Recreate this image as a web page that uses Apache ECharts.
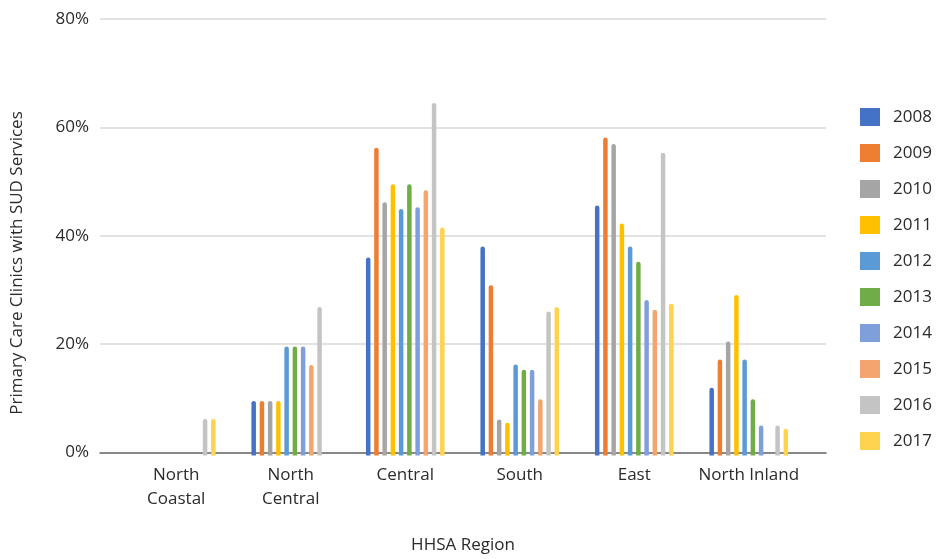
<!DOCTYPE html>
<html>
<head>
<meta charset="utf-8">
<script src="https://cdn.jsdelivr.net/npm/echarts@6/dist/echarts.min.js"></script>
<style>
  html, body { margin: 0; padding: 0; background: #ffffff; overflow: hidden; }
  #chart { width: 936px; height: 559px; }
</style>
</head>
<body>
<div id="chart"></div>
<script>
// Share of primary care clinics offering SUD services, by HHSA region and year (%)
const regions = ['North\nCoastal', 'North\nCentral', 'Central', 'South', 'East', 'North Inland'];
const years = ['2008', '2009', '2010', '2011', '2012', '2013', '2014', '2015', '2016', '2017'];

const v2008 = [0, 10.0, 36.3, 38.3, 45.8, 12.4];
const v2009 = [0, 10.0, 56.4, 31.2, 58.3, 17.6];
const v2010 = [0, 10.0, 46.4, 6.6, 57.1, 20.9];
const v2011 = [0, 10.0, 49.7, 6.0, 42.5, 29.4];
const v2012 = [0, 20.0, 45.2, 16.7, 38.3, 17.6];
const v2013 = [0, 20.0, 49.7, 15.7, 35.5, 10.3];
const v2014 = [0, 20.0, 45.5, 15.7, 28.5, 5.5];
const v2015 = [0, 16.6, 48.6, 10.3, 26.7, 0];
const v2016 = [6.7, 27.2, 64.6, 26.4, 55.5, 5.5];
const v2017 = [6.7, 0, 41.8, 27.2, 27.8, 4.9];

const yTicks = [0, 20, 40, 60, 80];

const seriesValues = [v2008, v2009, v2010, v2011, v2012, v2013, v2014, v2015, v2016, v2017];
const colors = ['#4472C4', '#ED7D31', '#A5A5A5', '#FFC000', '#5B9BD5',
                '#70AD47', '#7F9FDA', '#F3A46F', '#C4C4C4', '#FFD24F'];

const FONT = '"Open Sans", "Noto Sans", sans-serif';
const TEXT = '#2b2b2b';
const FS = 17;

const chart = echarts.init(document.getElementById('chart'), null, { renderer: 'canvas' });

const series = years.map((y, i) => ({
  name: y,
  type: 'bar',
  xAxisIndex: 1,
  yAxisIndex: 1,
  data: seriesValues[i],
  barWidth: 4.5,
  barGap: '83%',
  itemStyle: { color: colors[i], borderRadius: [2.25, 2.25, 0, 0] },
  emphasis: { disabled: true }
}));

chart.setOption({
  animation: false,
  color: colors,
  textStyle: { fontFamily: FONT },
  grid: [
    // frame: value gridlines and baseline across the full plot width
    { left: 100, width: 726, top: 19, height: 436.5 },
    // bars: category band inset within the frame
    { left: 119, width: 687, top: 19, height: 436.5 }
  ],
  legend: {
    orient: 'vertical',
    left: 860,
    top: 108,
    padding: 0,
    itemWidth: 20,
    itemHeight: 18,
    itemGap: 18,
    icon: 'rect',
    data: years,
    textStyle: { fontSize: FS, color: TEXT, fontFamily: FONT, lineHeight: 18, padding: [0, 0, 0, 8] }
  },
  xAxis: [
    {
      gridIndex: 0, type: 'value', min: 0, max: 1,
      axisLine: { show: true, onZero: false, lineStyle: { color: '#6b6b6b', width: 1.5 } },
      axisTick: { show: false }, axisLabel: { show: false }, splitLine: { show: false },
      name: 'HHSA Region', nameLocation: 'middle', nameGap: 93,
      nameTextStyle: { fontSize: FS, color: TEXT, fontFamily: FONT, verticalAlign: 'middle' }
    },
    {
      gridIndex: 1, type: 'category', data: regions,
      axisLine: { show: false }, axisTick: { show: false },
      axisLabel: { fontSize: FS, color: TEXT, lineHeight: 24, margin: 8, interval: 0, fontFamily: FONT }
    }
  ],
  yAxis: [
    {
      gridIndex: 0, type: 'value', min: yTicks[0], max: yTicks[yTicks.length - 1], interval: 20,
      axisLine: { show: false }, axisTick: { show: false },
      axisLabel: { formatter: '{value}%', fontSize: FS, color: TEXT, margin: 11, fontFamily: FONT },
      splitLine: { lineStyle: { color: '#d9d9d9', width: 1.5 } }
    },
    {
      gridIndex: 1, type: 'value', min: yTicks[0], max: yTicks[yTicks.length - 1], interval: 20,
      axisLine: { show: false }, axisTick: { show: false },
      axisLabel: { show: false }, splitLine: { show: false }
    }
  ],
  graphic: [
    {
      type: 'text',
      x: 17, y: 263,
      rotation: Math.PI / 2,
      style: {
        text: 'Primary Care Clinics with SUD Services',
        fontSize: FS, fontFamily: FONT, fill: TEXT,
        align: 'center', verticalAlign: 'middle'
      }
    }
  ],
  series: series
});
</script>
</body>
</html>
